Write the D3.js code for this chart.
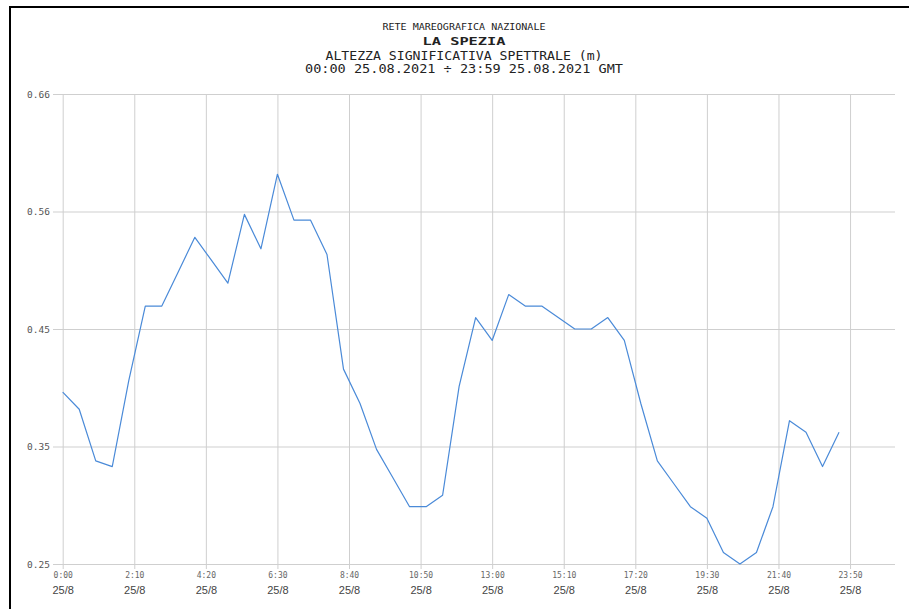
<!DOCTYPE html>
<html>
<head>
<meta charset="utf-8">
<script src="https://cdn.jsdelivr.net/npm/d3@7"></script>
<style>
body { margin: 0; background: #fff; }
</style>
</head>
<body>
<script>
/* Data
***********************************************************************/
// sample times (GMT), every 30 minutes on 25.08.2021
var times = ["0:00","0:30","1:00","1:30","2:00","2:30","3:00","3:30",
	"4:00","4:30","5:00","5:30","6:00","6:30","7:00","7:30",
	"8:00","8:30","9:00","9:30","10:00","10:30","11:00","11:30",
	"12:00","12:30","13:00","13:30","14:00","14:30","15:00","15:30",
	"16:00","16:30","17:00","17:30","18:00","18:30","19:00","19:30",
	"20:00","20:30","21:00","21:30","22:00","22:30","23:00","23:30"];

// significant spectral wave height (m)
var heights = [0.40, 0.385, 0.34, 0.335, 0.41, 0.475, 0.475, 0.505,
	0.535, 0.515, 0.495, 0.555, 0.525, 0.59, 0.55, 0.55,
	0.52, 0.42, 0.39, 0.35, 0.325, 0.30, 0.30, 0.31,
	0.405, 0.465, 0.445, 0.485, 0.475, 0.475, 0.465, 0.455,
	0.455, 0.465, 0.445, 0.39, 0.34, 0.32, 0.30, 0.29,
	0.26, 0.25, 0.26, 0.30, 0.375, 0.365, 0.335, 0.365];

var yTicks = [0.25, 0.3525, 0.455, 0.5575, 0.66];
var yLabels = ["0.25", "0.35", "0.45", "0.56", "0.66"];
var xTicks = ["0:00","2:10","4:20","6:30","8:40","10:50","13:00","15:10","17:20","19:30","21:40","23:50"];
var xDate = "25/8";

var titleLines = [
	{text: "RETE MAREOGRAFICA NAZIONALE", y: 30, size: 9, len: 163, weight: "normal"},
	{text: "LA SPEZIA", y: 45, size: 11, len: 83, weight: "bold"},
	{text: "ALTEZZA SIGNIFICATIVA SPETTRALE (m)", y: 60, size: 11.5, len: 277, weight: "normal"},
	{text: "00:00 25.08.2021 \u00f7 23:59 25.08.2021 GMT", y: 72.5, size: 11.5, len: 318, weight: "normal"}
];

function toMin(s) {
	var p = s.split(":");
	return (+p[0]) * 60 + (+p[1]);
}

/* Setup SVG
***********************************************************************/
var svgW = 909;
var svgH = 609;
var mono = "'DejaVu Sans Mono', monospace";

var svg = d3.select("body").append("svg")
	.attr("width", svgW)
	.attr("height", svgH);

svg.append("rect")
	.attr("width", svgW)
	.attr("height", svgH)
	.attr("fill", "#fff");

// frame (only top and left edges visible)
svg.append("rect")
	.attr("x", 10)
	.attr("y", 7)
	.attr("width", svgW + 20)
	.attr("height", svgH + 20)
	.attr("fill", "none")
	.attr("stroke", "#000")
	.attr("stroke-width", 2);

/* Scales
***********************************************************************/
var xScale = d3.scaleLinear()
	.domain([0, 1510])
	.range([62.7, 894.1]);

var yScale = d3.scaleLinear()
	.domain([0.25, 0.66])
	.range([564, 94]);

var gridColor = "#cfcfcf";

/* Axes and grid
***********************************************************************/
var yAxis = d3.axisLeft(yScale)
	.tickValues(yTicks)
	.tickSize(-(895 - 53))
	.tickPadding(3)
	.tickFormat(function(d, i) { return yLabels[i]; });

var yG = svg.append("g")
	.attr("transform", "translate(53,0)")
	.call(yAxis);
yG.select(".domain").remove();
yG.selectAll(".tick line").attr("stroke", gridColor);
yG.selectAll(".tick text")
	.attr("font-family", mono)
	.attr("font-size", "9.5px")
	.attr("fill", "#555")
	.attr("dy", "0.35em");

var xAxis = d3.axisBottom(xScale)
	.tickValues(xTicks.map(toMin))
	.tickSize(-(569 - 94))
	.tickPadding(3)
	.tickFormat(function(d, i) { return xTicks[i]; });

var xG = svg.append("g")
	.attr("transform", "translate(0,569)")
	.call(xAxis);
xG.select(".domain").remove();
xG.selectAll(".tick line").attr("stroke", gridColor);
xG.selectAll(".tick text")
	.attr("font-family", mono)
	.attr("font-size", "8px")
	.attr("fill", "#666");
xG.selectAll(".tick").append("text")
	.text(xDate)
	.attr("y", 25)
	.attr("text-anchor", "middle")
	.attr("font-family", "'Liberation Sans', Arial, sans-serif")
	.attr("font-size", "11px")
	.attr("fill", "#444");

/* Line
***********************************************************************/
var line = d3.line()
	.x(function(d, i) { return xScale(toMin(times[i])); })
	.y(function(d) { return yScale(d); });

svg.append("path")
	.datum(heights)
	.attr("d", line)
	.attr("fill", "none")
	.attr("stroke", "#4a8ad8")
	.attr("stroke-width", 1.2)
	.attr("stroke-linejoin", "round");

/* Title
***********************************************************************/
svg.append("g")
	.selectAll("text")
	.data(titleLines)
	.enter().append("text")
	.text(function(d) { return d.text; })
	.attr("x", 464)
	.attr("y", function(d) { return d.y; })
	.attr("text-anchor", "middle")
	.attr("font-family", mono)
	.attr("font-size", function(d) { return d.size + "px"; })
	.attr("font-weight", function(d) { return d.weight; })
	.attr("textLength", function(d) { return d.len; })
	.attr("lengthAdjust", "spacingAndGlyphs")
	.attr("fill", "#222");
</script>
</body>
</html>
